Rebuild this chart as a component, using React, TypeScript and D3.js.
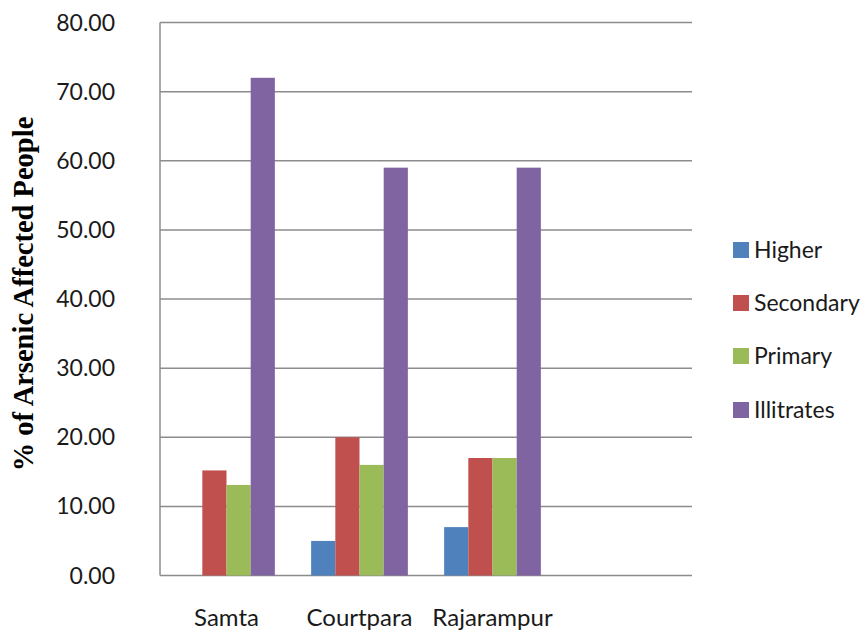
import React from "react";
import * as d3 from "d3";

// Villages on the x axis; the trailing blank slot keeps the empty fourth band.
const categories = ["Samta", "Courtpara", "Rajarampur", ""];
const seriesNames = ["Higher", "Secondary", "Primary", "Illitrates"];
const seriesColors = ["#4F81BD", "#C0504D", "#9BBB59", "#8064A2"];

// % of arsenic affected people by education level
const higher = [0, 5, 7];
const secondary = [15.2, 20, 17];
const primary = [13.1, 16, 17];
const illitrates = [72, 59, 59];

const yTicks = [0, 10, 20, 30, 40, 50, 60, 70, 80];

const W = 866;
const H = 634;
const plot = { left: 160, right: 692, top: 22.5, bottom: 575.5 };
const labelFont = "Lato, 'Open Sans', sans-serif";

export default function App() {
  const series = [higher, secondary, primary, illitrates];

  const x = d3
    .scaleBand<string>()
    .domain(categories.map((c, i) => `${i}`))
    .range([plot.left, plot.right])
    .paddingInner(0)
    .paddingOuter(0);

  // Excel-like clustering: gap between clusters is 150% of one bar
  const bw = x.bandwidth() / (seriesNames.length + 1.5);
  const inner = d3
    .scaleBand<number>()
    .domain(seriesNames.map((_, i) => i))
    .range([bw * 0.75, bw * 0.75 + bw * seriesNames.length]);

  const y = d3.scaleLinear().domain([0, 80]).range([plot.bottom, plot.top]);

  const legendY = [250, 303, 356, 410];

  return (
    <svg
      width={W}
      height={H}
      style={{ position: "absolute", left: 0, top: 0, background: "#fff" }}
    >
      {/* horizontal gridlines */}
      {yTicks.map((t) => (
        <line
          key={`g${t}`}
          x1={plot.left}
          x2={plot.right}
          y1={y(t)}
          y2={y(t)}
          stroke="#8c8c8c"
          strokeWidth={1.5}
        />
      ))}
      {/* y axis line */}
      <line
        x1={plot.left}
        x2={plot.left}
        y1={plot.top}
        y2={plot.bottom}
        stroke="#8c8c8c"
        strokeWidth={1.5}
      />

      {/* bars */}
      {series.map((vals, s) =>
        vals.map((v, i) =>
          v > 0 ? (
            <rect
              key={`b${s}-${i}`}
              x={(x(`${i}`) as number) + (inner(s) as number)}
              width={inner.bandwidth()}
              y={y(v)}
              height={y(0) - y(v)}
              fill={seriesColors[s]}
            />
          ) : null
        )
      )}

      {/* y tick labels */}
      {yTicks.map((t) => (
        <text
          key={`t${t}`}
          x={115}
          y={y(t)}
          dy="0.35em"
          textAnchor="end"
          fontFamily={labelFont}
          fontSize={23}
          fill="#1a1a1a"
        >
          {d3.format(".2f")(t)}
        </text>
      ))}

      {/* category labels */}
      {categories.map((c, i) => (
        <text
          key={`c${i}`}
          x={(x(`${i}`) as number) + x.bandwidth() / 2}
          y={626}
          textAnchor="middle"
          fontFamily={labelFont}
          fontSize={24}
          fill="#1a1a1a"
        >
          {c}
        </text>
      ))}

      {/* y axis title */}
      <text
        transform={`translate(33, 294) rotate(-90)`}
        textAnchor="middle"
        fontFamily="'Liberation Serif', 'Times New Roman', serif"
        fontWeight="bold"
        fontSize={28.5}
        fill="#000"
      >
        % of Arsenic Affected People
      </text>

      {/* legend */}
      {seriesNames.map((n, i) => (
        <g key={`l${i}`} transform={`translate(733, ${legendY[i]})`}>
          <rect x={0} y={-8} width={16} height={16} fill={seriesColors[i]} />
          <text
            x={21}
            y={0}
            dy="0.35em"
            fontFamily={labelFont}
            fontSize={23}
            fill="#1a1a1a"
          >
            {n}
          </text>
        </g>
      ))}
    </svg>
  );
}
